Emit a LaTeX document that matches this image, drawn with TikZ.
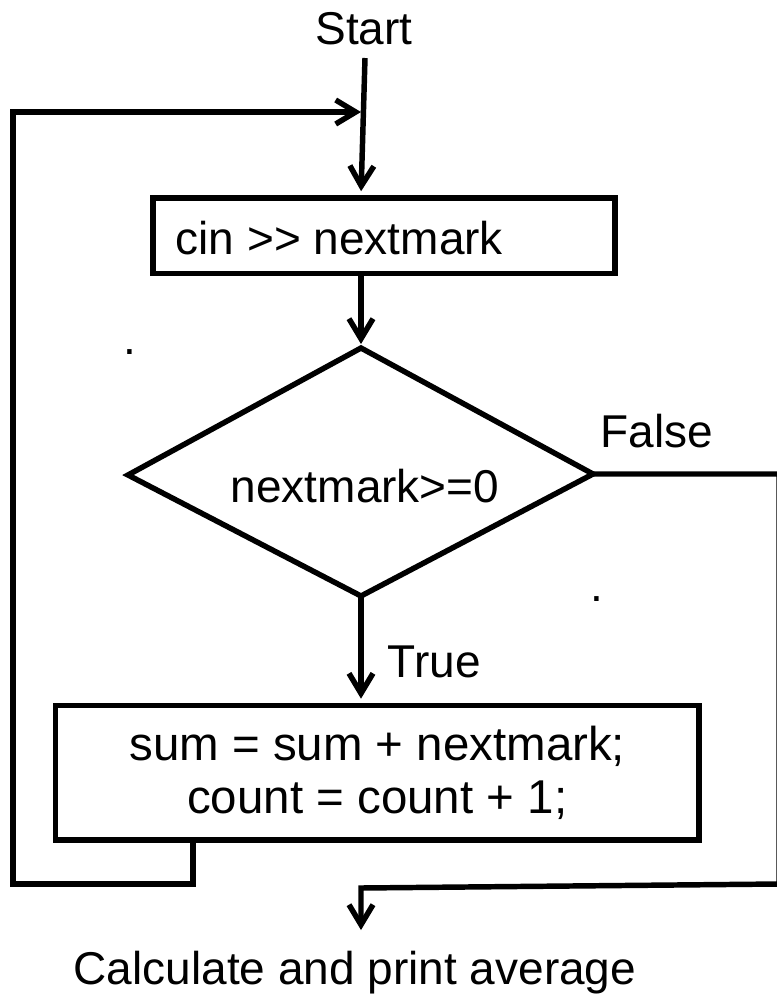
\documentclass[tikz,border=0pt]{standalone}
\usepackage{fontspec}
\setmainfont{Liberation Sans}
\usetikzlibrary{arrows.meta}
\begin{document}
\begin{tikzpicture}[x=0.75pt,y=-0.75pt,line width=4.1pt,
  every node/.style={font=\fontsize{34.5}{39.75}\selectfont, inner sep=0pt},
  flowbox/.style={draw, rectangle, line width=4.2pt},
  flowarrow/.style={-{Straight Barb[length=15pt,width=18pt]}, line join=miter},
  wire/.style={line join=miter}]
\useasboundingbox (0,0) rectangle (777,1004);

% labels and boxes
\node[anchor=base] (start) at (364,44) {Start};
\coordinate (startTop) at (365,58);

\node[flowbox, minimum width=346.5pt, minimum height=56.6pt] (read) at (384,235.75) {};
\node[anchor=base west] (readtxt) at (173,254) {cin >{}> nextmark};

% decision diamond
\coordinate (dT) at (361,348);
\coordinate (dR) at (593,474);
\coordinate (dB) at (361,596);
\coordinate (dL) at (128,475);
\draw[wire] (dT) -- (dR) -- (dB) -- (dL) -- cycle;
\node[anchor=base] (cond) at (365,502) {nextmark>=0};
\node[anchor=base west] (falselbl) at (598,447) {False};
\node[anchor=base west] (truelbl) at (385,677) {True};

\node[flowbox, minimum width=482.6pt, minimum height=100.9pt, align=center,
      font=\fontsize{35.6}{39.75}\selectfont] (sum) at (377.25,772.75)
  {sum = sum + nextmark;\\count = count + 1;};

\node[anchor=base] (avg) at (355,984) {Calculate and print average};
\coordinate (avgIn) at (361,930);

% stray dots
\node[anchor=base] (dotA) at (129.5,354) {.};
\node[anchor=base] (dotB) at (597,601) {.};

% connectors
\draw[flowarrow, shorten >=3pt] (startTop) -- (read.north -| dT);
\draw[flowarrow, shorten >=3pt] (read.south -| dT) -- (dT);
\draw[flowarrow, shorten >=3pt] (dB) -- (sum.north -| dB);

\coordinate (loopStart) at (193,840);
\draw[flowarrow] (loopStart) -- (193,884) -- (13,884) -- (13,112) -- (361,112);

\draw[flowarrow] (dR) -- (779,474) -- (779,884) -- (361,888) -- (avgIn);
\end{tikzpicture}
\end{document}
